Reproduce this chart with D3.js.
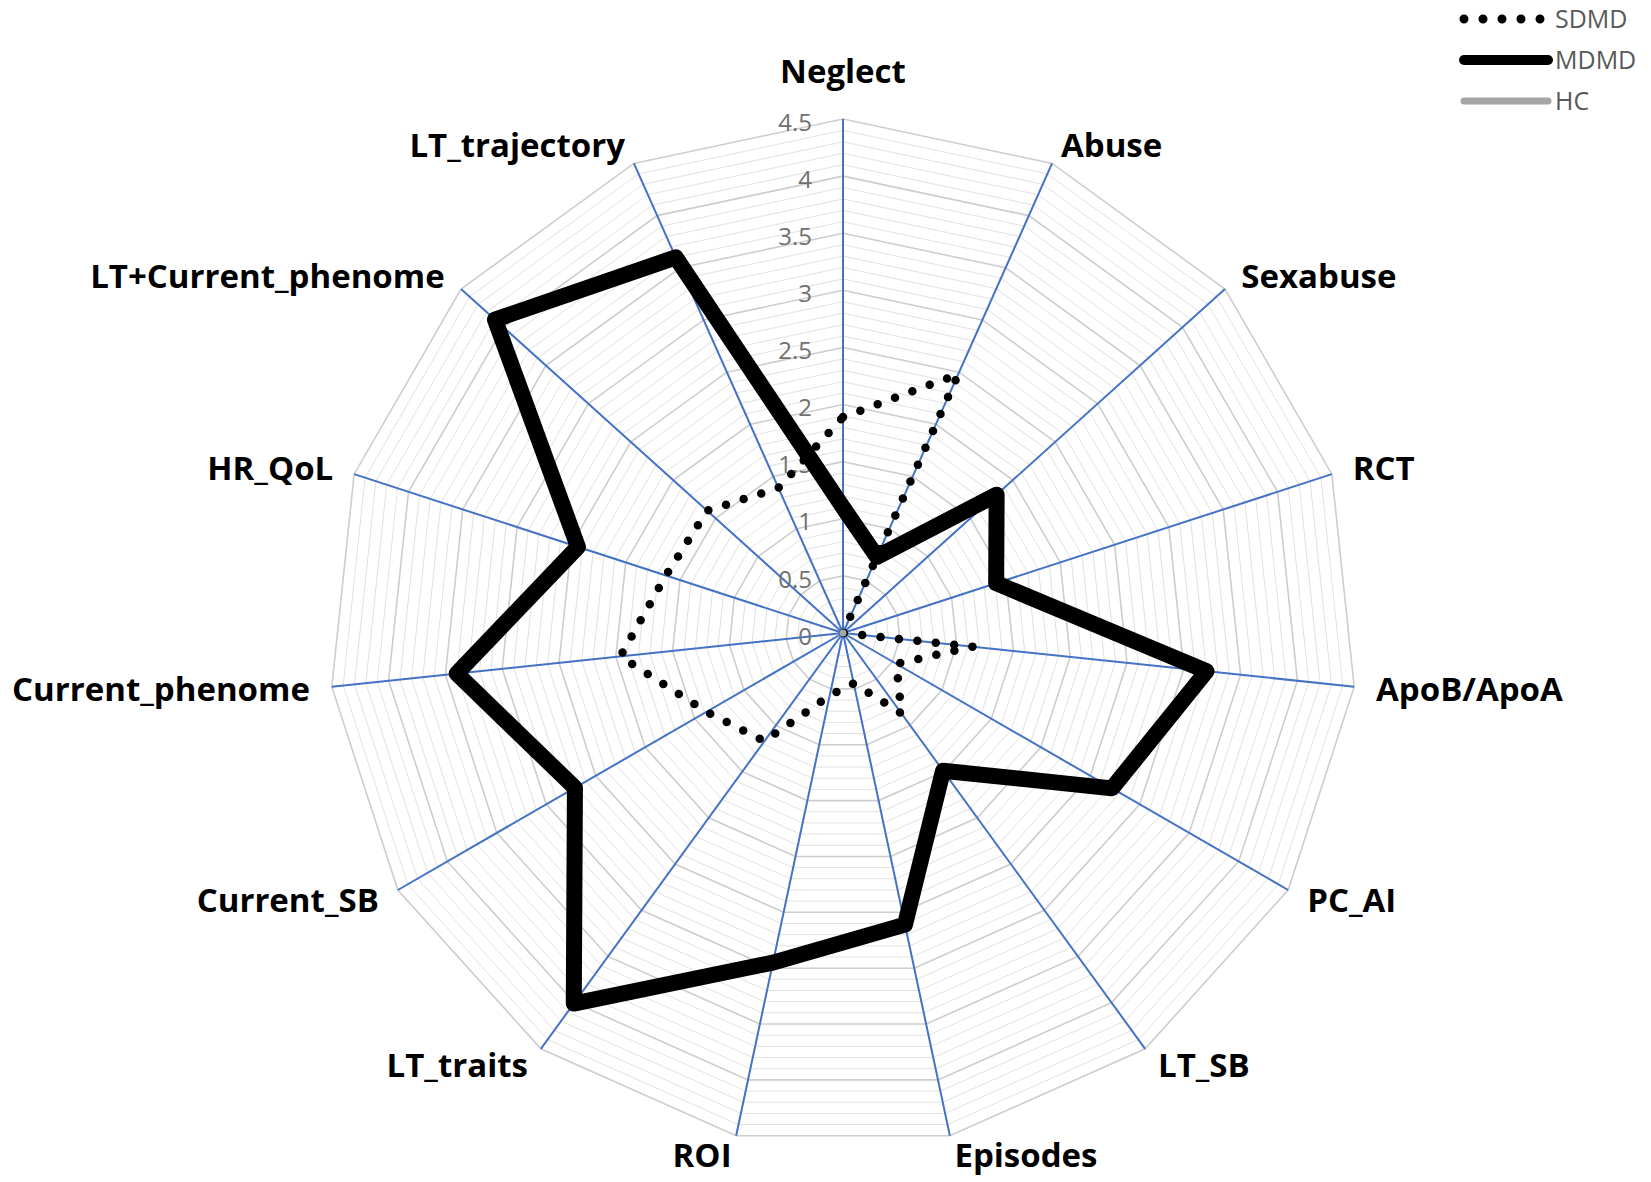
<!DOCTYPE html>
<html>
<head>
<meta charset="utf-8">
<script src="https://cdn.jsdelivr.net/npm/d3@7"></script>
<style>
  body { margin: 0; background: #ffffff; }
  svg { display: block; }
</style>
</head>
<body>
<svg id="chart" width="1651" height="1182"></svg>
<script>
// ---------------- data ----------------
const categories = ["Neglect", "Abuse", "Sexabuse", "RCT", "ApoB/ApoA", "PC_AI", "LT_SB",
  "Episodes", "ROI", "LT_traits", "Current_SB", "Current_phenome", "HR_QoL",
  "LT+Current_phenome", "LT_trajectory"];
const sdmdValues = [1.89, 2.48, 0, 0, 1.14, 0.54, 0.87, 0.45, 0.56, 1.17, 1.38, 1.96, 1.63, 1.60, 1.39];
const mdmdValues = [1.10, 0.73, 1.81, 1.41, 3.20, 2.72, 1.49, 2.61, 2.95, 4.01, 2.71, 3.40, 2.44, 4.10, 3.60];
const hcValues   = [0, 0, 0, 0, 0, 0, 0, 0, 0, 0, 0, 0, 0, 0, 0];
const tickValues = [0, 0.5, 1, 1.5, 2, 2.5, 3, 3.5, 4, 4.5];
const tickLabels = ["0", "0.5", "1", "1.5", "2", "2.5", "3", "3.5", "4", "4.5"];
const seriesNames = ["SDMD", "MDMD", "HC"];

// ---------------- layout ----------------
const svg = d3.select("#chart");
const cx = 843, cy = 633, R = 514, maxV = 4.5;
const n = categories.length;

const rScale = d3.scaleLinear().domain([0, maxV]).range([0, R]);
const aScale = d3.scaleLinear().domain([0, n]).range([0, 2 * Math.PI]);

const g = svg.append("g").attr("transform", `translate(${cx},${cy})`);

// grid rings (minor every 0.1, major every 0.5)
const ringLine = d3.lineRadial()
  .angle((d, i) => aScale(i))
  .radius(d => rScale(d))
  .curve(d3.curveLinearClosed);

const minorTicks = rScale.ticks(45).filter(t => t > 0);
const isMajor = t => Math.abs(t * 2 - Math.round(t * 2)) < 1e-6;

g.append("g").selectAll("path")
  .data(minorTicks.filter(t => !isMajor(t)))
  .join("path")
  .attr("d", t => ringLine(categories.map(() => t)))
  .attr("fill", "none")
  .attr("stroke", "#e1e1e1")
  .attr("stroke-width", 1);

g.append("g").selectAll("path")
  .data(minorTicks.filter(t => isMajor(t)))
  .join("path")
  .attr("d", t => ringLine(categories.map(() => t)))
  .attr("fill", "none")
  .attr("stroke", "#cdcdcd")
  .attr("stroke-width", 1.6);

// spokes
g.append("g").selectAll("line")
  .data(categories)
  .join("line")
  .attr("x1", 0).attr("y1", 0)
  .attr("x2", (d, i) => rScale(maxV) * Math.sin(aScale(i)))
  .attr("y2", (d, i) => -rScale(maxV) * Math.cos(aScale(i)))
  .attr("stroke", "#4472C4")
  .attr("stroke-width", 2);

// tick labels
g.append("g").selectAll("text")
  .data(tickValues)
  .join("text")
  .attr("x", -31)
  .attr("y", d => -rScale(d) + 3)
  .attr("dy", "0.36em")
  .attr("text-anchor", "end")
  .attr("font-family", "'Open Sans', sans-serif")
  .attr("font-size", 24)
  .attr("fill", "#707070")
  .text((d, i) => tickLabels[i]);

// category labels
g.append("g").selectAll("text")
  .data(categories)
  .join("text")
  .each(function (d, i) {
    const th = aScale(i);
    const s = Math.sin(th), c = Math.cos(th);
    const ex = rScale(maxV) * s, ey = -rScale(maxV) * c;
    const off = Math.abs(s) < 1e-6 ? 48 : 20;
    d3.select(this)
      .attr("x", ex + s * 22)
      .attr("y", ey - c * off)
      .attr("dy", "0.36em")
      .attr("text-anchor", s > 1e-6 ? "start" : (s < -1e-6 ? "end" : "middle"));
  })
  .attr("font-family", "'Open Sans', sans-serif")
  .attr("font-weight", 700)
  .attr("font-size", 33)
  .attr("fill", "#000")
  .text(d => d);

// series
const seriesLine = d3.lineRadial()
  .angle((d, i) => aScale(i))
  .radius(d => rScale(d))
  .curve(d3.curveLinearClosed);

const styles = {
  SDMD: { stroke: "#000", width: 8.5, dash: "0 18.5", cap: "round" },
  MDMD: { stroke: "#000", width: 16, dash: null, cap: "round" },
  HC:   { stroke: "#a6a6a6", width: 7, dash: null, cap: "round" }
};
const seriesData = [sdmdValues, mdmdValues, hcValues];

seriesNames.forEach((name, k) => {
  const st = styles[name];
  g.append("path")
    .attr("d", seriesLine(seriesData[k]))
    .attr("fill", "none")
    .attr("stroke", st.stroke)
    .attr("stroke-width", st.width)
    .attr("stroke-linejoin", "round")
    .attr("stroke-linecap", st.cap)
    .attr("stroke-dasharray", st.dash);
});

// legend
const legend = svg.append("g");
const legendY = d3.scalePoint().domain(seriesNames).range([19, 101]);
seriesNames.forEach(name => {
  const st = styles[name];
  const y = legendY(name);
  legend.append("line")
    .attr("x1", 1464).attr("x2", name === "SDMD" ? 1545 : 1548)
    .attr("y1", y).attr("y2", y)
    .attr("stroke", st.stroke)
    .attr("stroke-width", name === "MDMD" ? 10 : (name === "HC" ? 7 : 9))
    .attr("stroke-linecap", "round")
    .attr("stroke-dasharray", name === "SDMD" ? "0 19" : null);
  legend.append("text")
    .attr("x", 1555).attr("y", y)
    .attr("dy", "0.36em")
    .attr("font-family", "'Open Sans', sans-serif")
    .attr("font-size", 25)
    .attr("fill", "#595959")
    .text(name);
});
</script>
</body>
</html>
